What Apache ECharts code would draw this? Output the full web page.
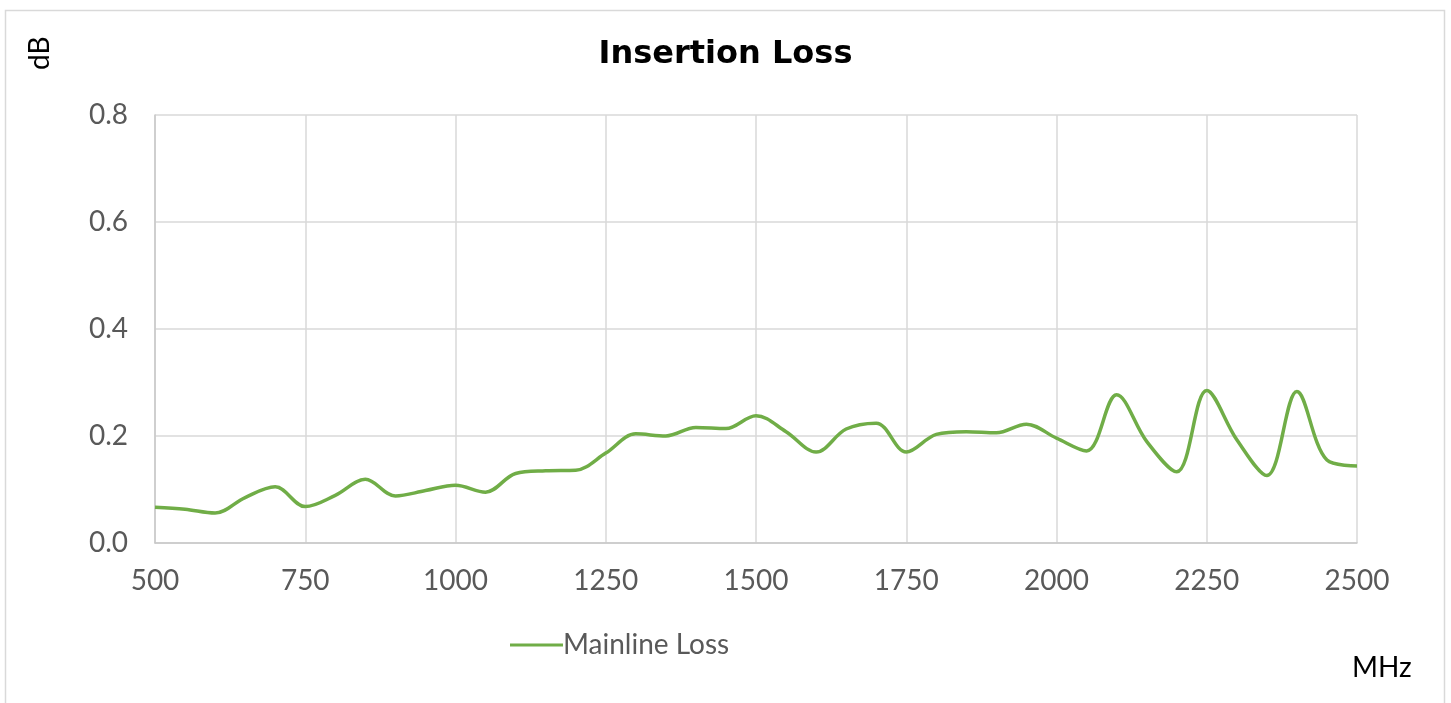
<!DOCTYPE html>
<html lang="en">
<head>
    <meta charset="UTF-8">
    <title>Insertion Loss</title>
    <script src="https://cdn.jsdelivr.net/npm/echarts@6/dist/echarts.min.js"></script>
    <style>
        html, body { margin: 0; padding: 0; background: #fff; }
        #main { width: 1451px; height: 703px; }
    </style>
</head>
<body>
<div id="main"></div>
<script>
    // frequency points (MHz) and measured loss (dB)
    const freqs = [500, 550, 600, 650, 700, 750, 800, 850, 900, 950,
        1000, 1050, 1100, 1150, 1200, 1250, 1300, 1350, 1400, 1450,
        1500, 1550, 1600, 1650, 1700, 1750, 1800, 1850, 1900, 1950,
        2000, 2050, 2100, 2150, 2200, 2250, 2300, 2350, 2400, 2450, 2500]
    const mainlineLoss = [0.067, 0.063, 0.056, 0.085, 0.105, 0.068, 0.089, 0.119, 0.088, 0.098,
        0.108, 0.095, 0.130, 0.135, 0.136, 0.168, 0.204, 0.200, 0.216, 0.214,
        0.238, 0.208, 0.170, 0.213, 0.224, 0.170, 0.203, 0.208, 0.206, 0.222,
        0.196, 0.172, 0.277, 0.190, 0.133, 0.285, 0.193, 0.126, 0.283, 0.155, 0.144]
    const seriesName = 'Mainline Loss'

    const font = 'Lato, "Open Sans", sans-serif'
    const gray = '#595959'

    let myChart = echarts.init(document.getElementById('main'))
    myChart.setOption({
        animation: false,
        title: {
            text: 'Insertion Loss',
            left: 'center',
            top: 34,
            textStyle: { fontFamily: '"DejaVu Sans", sans-serif', fontWeight: 'bold', fontSize: 32, color: '#000' }
        },
        legend: {
            data: [seriesName],
            left: 505,
            top: 626,
            icon: 'rect',
            itemWidth: 53,
            itemHeight: 3,
            textStyle: { fontFamily: font, fontSize: 28, color: gray, padding: [0, 0, 0, -5] }
        },
        grid: { left: 155, right: 94, top: 115, bottom: 160 },
        xAxis: {
            type: 'value',
            min: 500,
            max: 2500,
            interval: 250,
            axisLine: { lineStyle: { color: '#c8c8c8', width: 1.5 } },
            axisTick: { show: false },
            axisLabel: { fontFamily: font, fontSize: 28, color: gray, margin: 24, formatter: v => String(v) },
            splitLine: { show: true, lineStyle: { color: '#d9d9d9', width: 1.5 } }
        },
        yAxis: {
            type: 'value',
            min: 0,
            max: 0.8,
            interval: 0.2,
            axisLine: { show: true, lineStyle: { color: '#c8c8c8', width: 1.5 } },
            axisTick: { show: false },
            axisLabel: {
                fontFamily: font, fontSize: 28, color: gray, margin: 27,
                formatter: v => v.toFixed(1)
            },
            splitLine: { lineStyle: { color: '#d9d9d9', width: 1.5 } }
        },
        graphic: [
            {
                type: 'rect',
                shape: { x: 5.5, y: 10.5, width: 1439, height: 700 },
                style: { fill: 'none', stroke: '#d9d9d9', lineWidth: 1.5 },
                silent: true
            },
            {
                type: 'text',
                x: 26,
                y: 70,
                rotation: Math.PI / 2,
                style: { text: 'dB', font: '28px ' + font, fill: '#000' }
            },
            {
                type: 'text',
                x: 1352,
                y: 654,
                style: { text: 'MHz', font: '28px ' + font, fill: '#000' }
            }
        ],
        series: [
            {
                name: seriesName,
                type: 'line',
                data: freqs.map((f, i) => [f, mainlineLoss[i]]),
                smooth: 0.35,
                symbol: 'none',
                lineStyle: { color: '#70ad47', width: 3.5 },
                itemStyle: { color: '#70ad47' }
            }
        ]
    })
</script>
</body>
</html>
